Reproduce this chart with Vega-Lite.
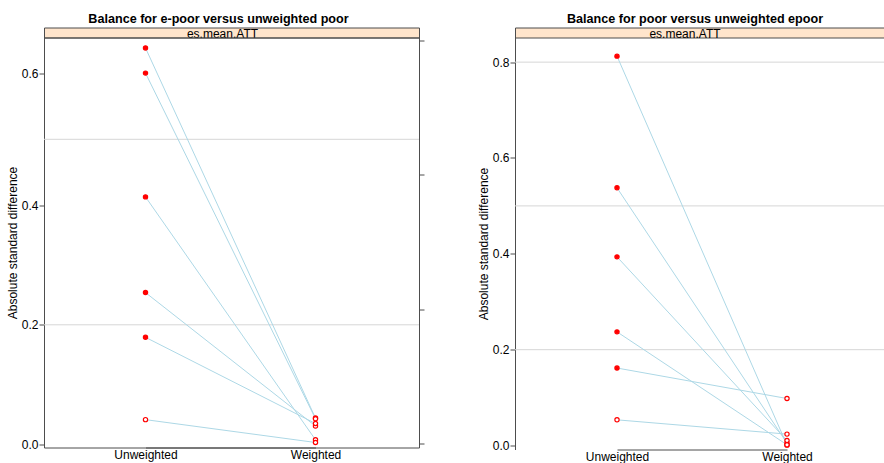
{
  "$schema": "https://vega.github.io/schema/vega-lite/v6.json",
  "padding": {"left": 5, "top": 11.5, "right": 0, "bottom": 0},
  "background": "white",
  "config": {
    "font": "Liberation Sans",
    "view": {"stroke": "#4d4d4d"},
    "title": {"fontSize": 12.6, "fontWeight": "bold", "color": "black", "offset": 2, "font": "Liberation Sans", "anchor": "middle"},
    "axis": {"labelFont": "Liberation Sans", "labelFontSize": 12, "labelColor": "black", "titleFont": "Liberation Sans", "titleFontSize": 12, "titleFontWeight": "normal", "titleColor": "black", "domainColor": "#4d4d4d", "tickColor": "#4d4d4d", "grid": false}
  },
  "datasets": {
    "left": [
      {"id": "a", "stage": "Unweighted", "es": 0.638, "filled": "yes"},
      {"id": "a", "stage": "Weighted", "es": 0.0436, "filled": "no"},
      {"id": "b", "stage": "Unweighted", "es": 0.600, "filled": "yes"},
      {"id": "b", "stage": "Weighted", "es": 0.0424, "filled": "no"},
      {"id": "c", "stage": "Unweighted", "es": 0.413, "filled": "yes"},
      {"id": "c", "stage": "Weighted", "es": 0.0072, "filled": "no"},
      {"id": "d", "stage": "Unweighted", "es": 0.254, "filled": "yes"},
      {"id": "d", "stage": "Weighted", "es": 0.0302, "filled": "no"},
      {"id": "e", "stage": "Unweighted", "es": 0.179, "filled": "yes"},
      {"id": "e", "stage": "Weighted", "es": 0.0345, "filled": "no"},
      {"id": "f", "stage": "Unweighted", "es": 0.041, "filled": "no"},
      {"id": "f", "stage": "Weighted", "es": 0.0027, "filled": "no"}
    ],
    "right": [
      {"id": "a", "stage": "Unweighted", "es": 0.8125, "filled": "yes"},
      {"id": "a", "stage": "Weighted", "es": 0.0008, "filled": "no"},
      {"id": "b", "stage": "Unweighted", "es": 0.5377, "filled": "yes"},
      {"id": "b", "stage": "Weighted", "es": 0.005, "filled": "no"},
      {"id": "c", "stage": "Unweighted", "es": 0.3937, "filled": "yes"},
      {"id": "c", "stage": "Weighted", "es": 0.0104, "filled": "no"},
      {"id": "d", "stage": "Unweighted", "es": 0.2372, "filled": "yes"},
      {"id": "d", "stage": "Weighted", "es": 0.0015, "filled": "no"},
      {"id": "e", "stage": "Unweighted", "es": 0.1617, "filled": "yes"},
      {"id": "e", "stage": "Weighted", "es": 0.0981, "filled": "no"},
      {"id": "f", "stage": "Unweighted", "es": 0.0536, "filled": "no"},
      {"id": "f", "stage": "Weighted", "es": 0.0238, "filled": "no"}
    ],
    "refs": [{"v": 0.2}, {"v": 0.5}, {"v": 0.8}],
    "rticks": [{"t": 0}, {"t": 1}, {"t": 2}, {"t": 3}],
    "strip": [{"label": "es.mean.ATT"}]
  },
  "spacing": 52,
  "hconcat": [
    {
      "spacing": 0,
      "bounds": "flush",
      "vconcat": [
        {
          "title": {"text": "Balance for e-poor versus unweighted poor", "dx": -13},
          "width": 375, "height": 10,
          "view": {"fill": "#FFE5CC", "stroke": "#4d4d4d"},
          "data": {"name": "strip"},
          "mark": {"type": "text", "fontSize": 12, "dx": -9, "dy": 1, "color": "black", "baseline": "middle"},
          "encoding": {"text": {"field": "label"}}
        },
        {
          "width": 375, "height": 410,
          "view": {"stroke": "#4d4d4d"},
          "resolve": {"scale": {"y": "independent"}, "axis": {"y": "independent"}},
          "layer": [
            {
              "layer": [
                {
                  "data": {"name": "refs"},
                  "transform": [{"filter": "datum.v < 0.65"}],
                  "mark": {"type": "rule", "color": "#d6d6d6", "strokeWidth": 1},
                  "encoding": {
                    "y": {"field": "v", "type": "quantitative", "scale": {"domain": [-0.0057, 0.4, 0.6538], "range": [410, 168, 0], "nice": false, "zero": false}}
                  }
                },
                {
                  "data": {"name": "left"},
                  "mark": {"type": "line", "color": "#ADD8E6", "strokeWidth": 1},
                  "encoding": {
                    "x": {"field": "stage", "type": "nominal", "sort": ["Unweighted", "Weighted"], "scale": {"type": "point", "range": [101.5, 271.5], "padding": 0}, "axis": {"title": null, "ticks": false, "labelAngle": 0, "labelPadding": 2}},
                    "y": {"field": "es", "type": "quantitative", "scale": {"domain": [-0.0057, 0.4, 0.6538], "range": [410, 168, 0], "nice": false, "zero": false}, "axis": {"title": "Absolute standard difference", "values": [0, 0.2, 0.4, 0.6], "format": ".1f", "tickSize": 5, "labelPadding": 1, "titlePadding": 2}},
                    "detail": {"field": "id"}
                  }
                },
                {
                  "data": {"name": "left"},
                  "mark": {"type": "circle", "size": 18, "stroke": "#FF0000", "strokeWidth": 1.2, "opacity": 1},
                  "encoding": {
                    "x": {"field": "stage", "type": "nominal", "sort": ["Unweighted", "Weighted"]},
                    "y": {"field": "es", "type": "quantitative"},
                    "fill": {"field": "filled", "type": "nominal", "scale": {"domain": ["yes", "no"], "range": ["#FF0000", "#FFFFFF"]}, "legend": null}
                  }
                }
              ]
            },
            {
              "data": {"name": "rticks"},
              "mark": {"type": "point", "opacity": 0},
              "encoding": {
                "y": {"field": "t", "type": "quantitative", "scale": {"domain": [-0.0275, 3.0223], "nice": false, "zero": false}, "axis": {"orient": "right", "labels": false, "title": null, "domain": false, "values": [0, 1, 2, 3], "tickSize": 5}}
              }
            }
          ]
        }
      ]
    },
    {
      "spacing": 0,
      "bounds": "flush",
      "vconcat": [
        {
          "title": {"text": "Balance for poor versus unweighted epoor", "dx": -4.5},
          "width": 369, "height": 10,
          "view": {"fill": "#FFE5CC", "stroke": "#4d4d4d"},
          "data": {"name": "strip"},
          "mark": {"type": "text", "fontSize": 12, "dx": -14.5, "dy": 1, "color": "black", "baseline": "middle"},
          "encoding": {"text": {"field": "label"}}
        },
        {
          "width": 369, "height": 412,
          "view": {"stroke": null},
          "layer": [
            {
              "data": {"name": "refs"},
              "mark": {"type": "rule", "color": "#d6d6d6", "strokeWidth": 1},
              "encoding": {
                "y": {"field": "v", "type": "quantitative", "scale": {"domain": [-0.0083, 0.8514], "nice": false, "zero": false}}
              }
            },
            {
              "data": {"name": "right"},
              "mark": {"type": "line", "color": "#ADD8E6", "strokeWidth": 1},
              "encoding": {
                "x": {"field": "stage", "type": "nominal", "sort": ["Unweighted", "Weighted"], "scale": {"type": "point", "range": [102, 272], "padding": 0}, "axis": {"title": null, "ticks": false, "labelAngle": 0, "labelPadding": 2}},
                "y": {"field": "es", "type": "quantitative", "scale": {"domain": [-0.0083, 0.8514], "nice": false, "zero": false}, "axis": {"title": "Absolute standard difference", "values": [0, 0.2, 0.4, 0.6, 0.8], "format": ".1f", "tickSize": 5, "labelPadding": 1, "titlePadding": 2}},
                "detail": {"field": "id"}
              }
            },
            {
              "data": {"name": "right"},
              "mark": {"type": "circle", "size": 18, "stroke": "#FF0000", "strokeWidth": 1.2, "opacity": 1},
              "encoding": {
                "x": {"field": "stage", "type": "nominal", "sort": ["Unweighted", "Weighted"]},
                "y": {"field": "es", "type": "quantitative"},
                "fill": {"field": "filled", "type": "nominal", "scale": {"domain": ["yes", "no"], "range": ["#FF0000", "#FFFFFF"]}, "legend": null}
              }
            }
          ]
        }
      ]
    }
  ]
}
